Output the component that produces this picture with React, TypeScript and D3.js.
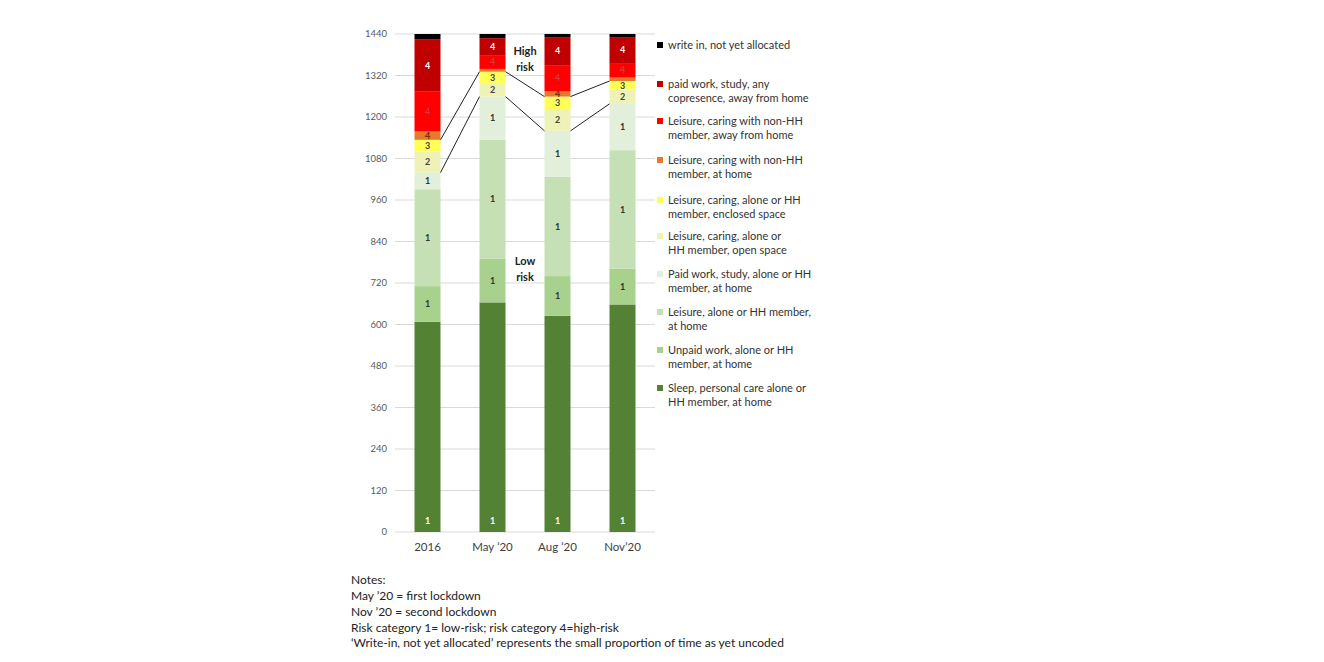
import React from "react";
import * as d3 from "d3";

const categories = ["2016", "May ’20", "Aug ’20", "Nov’20"];

const seriesKeys = [
  "sleep",
  "unpaid",
  "leisureHome",
  "paidHome",
  "openSpace",
  "enclosed",
  "nonHHHome",
  "nonHHAway",
  "paidAway",
  "writeIn",
];

const sleep = [608, 664, 625, 658];
const unpaid = [103, 127, 115, 103];
const leisureHome = [280, 343, 287, 343];
const paidHome = [48, 125, 133, 134];
const openSpace = [61, 39, 63, 41];
const enclosed = [34, 33, 36, 25];
const nonHHHome = [24, 8, 15, 10];
const nonHHAway = [115, 40, 76, 42];
const paidAway = [152, 49, 81, 75];
const writeIn = [15, 12, 9, 9];

const seriesValues = [sleep, unpaid, leisureHome, paidHome, openSpace, enclosed, nonHHHome, nonHHAway, paidAway, writeIn];

const riskLabels = ["1", "1", "1", "1", "2", "3", "4", "4", "4", ""];

const colors = ["#548235", "#a9d18e", "#c5e0b4", "#e2efda", "#eef2b6", "#ffff57", "#e8782e", "#ff0000", "#c00000", "#000000"];
const labelColors = ["#ffffff", "#333333", "#333333", "#333333", "#444444", "#444444", "#6b3000", "#d83a3a", "#ffffff", "#ffffff"];

const legendLabels = [
  ["write in, not yet allocated"],
  ["paid work, study, any", "copresence, away from home"],
  ["Leisure, caring with non-HH", "member, away from home"],
  ["Leisure, caring with non-HH", "member, at home"],
  ["Leisure, caring, alone or HH", "member, enclosed space"],
  ["Leisure, caring, alone or", "HH member, open space"],
  ["Paid work, study, alone or HH", "member, at home"],
  ["Leisure, alone or HH member,", "at home"],
  ["Unpaid work, alone or HH", "member, at home"],
  ["Sleep, personal care alone or", "HH member, at home"],
];
const legendRowY = [45, 84, 121, 160, 200, 236, 274, 312, 350, 388];

const yTicks = [0, 120, 240, 360, 480, 600, 720, 840, 960, 1080, 1200, 1320, 1440];

const notes = [
  "Notes:",
  "May ’20 = first lockdown",
  "Nov ’20 = second lockdown",
  "Risk category 1= low-risk; risk category 4=high-risk",
  "‘Write-in, not yet allocated’ represents the small proportion of time as yet uncoded",
];

const FONT = "Lato, 'Open Sans', sans-serif";

export default function App() {
  const x = d3.scaleBand<string>().domain(categories).range([395, 655]).paddingInner(0.6).paddingOuter(0.3);
  const y = d3.scaleLinear().domain([0, 1440]).range([532, 34]);

  const rows = categories.map((c, i) => {
    const r: any = { cat: c };
    seriesKeys.forEach((k, j) => (r[k] = seriesValues[j][i]));
    return r;
  });
  const stacked = d3.stack<any>().keys(seriesKeys)(rows);
  const bw = x.bandwidth();

  const connectorLevels = [3, 5];
  const connectors: { x1: number; y1: number; x2: number; y2: number }[] = [];
  connectorLevels.forEach((lvl) => {
    for (let i = 0; i < categories.length - 1; i++) {
      connectors.push({
        x1: (x(categories[i]) as number) + bw,
        y1: y(stacked[lvl][i][1]),
        x2: x(categories[i + 1]) as number,
        y2: y(stacked[lvl][i + 1][1]),
      });
    }
  });

  const legendOrder = [9, 8, 7, 6, 5, 4, 3, 2, 1, 0];

  return (
    <svg width={1308} height={654} style={{ display: "block", background: "#fff" }} fontFamily={FONT}>
      <g transform="translate(-8,-8)">
        {yTicks.map((t) => (
          <g key={t}>
            <line x1={395} x2={655} y1={y(t)} y2={y(t)} stroke="#d9d9d9" strokeWidth={1} />
            <text x={387} y={y(t)} dy="0.35em" textAnchor="end" fontSize={9.5} fill="#595959">
              {t}
            </text>
          </g>
        ))}
        {stacked.map((s, j) =>
          s.map((d, i) => {
            const x0 = x(categories[i]) as number;
            const yTop = y(d[1]);
            const yBot = y(d[0]);
            const h = yBot - yTop;
            const lbl = riskLabels[j];
            const isBase = j === 0;
            return (
              <g key={`${j}-${i}`}>
                <rect x={x0} y={yTop} width={bw} height={h} fill={colors[j]} />
                {lbl && h >= 5 && (
                  <text
                    x={x0 + bw / 2}
                    y={isBase ? yBot - 11 : (yTop + yBot) / 2}
                    dy="0.35em"
                    textAnchor="middle"
                    fontSize={9}
                    fontWeight="bold"
                    fill={labelColors[j]}
                  >
                    {lbl}
                  </text>
                )}
              </g>
            );
          })
        )}
        {connectors.map((c, i) => (
          <line key={i} x1={c.x1} y1={c.y1} x2={c.x2} y2={c.y2} stroke="#222" strokeWidth={1} />
        ))}
        {categories.map((c) => (
          <text key={c} x={(x(c) as number) + bw / 2} y={547} dy="0.35em" textAnchor="middle" fontSize={11.5} fill="#404040">
            {c}
          </text>
        ))}
        <text x={525} y={51} dy="0.35em" textAnchor="middle" fontSize={11} fontWeight="bold" fill="#222">
          High
        </text>
        <text x={525} y={67} dy="0.35em" textAnchor="middle" fontSize={11} fontWeight="bold" fill="#222">
          risk
        </text>
        <text x={525} y={261} dy="0.35em" textAnchor="middle" fontSize={11} fontWeight="bold" fill="#222">
          Low
        </text>
        <text x={525} y={277} dy="0.35em" textAnchor="middle" fontSize={11} fontWeight="bold" fill="#222">
          risk
        </text>
        {legendOrder.map((j, k) => (
          <g key={j}>
            <rect x={657} y={legendRowY[k] - 3} width={6} height={6} fill={colors[j]} />
            {legendLabels[k].map((line, li) => (
              <text key={li} x={668} y={legendRowY[k] + li * 14.5} dy="0.35em" fontSize={11} fill="#333">
                {line}
              </text>
            ))}
          </g>
        ))}
        {notes.map((n, i) => (
          <text key={i} x={351} y={580 + i * 15.8} dy="0.35em" fontSize={12} fill="#222">
            {n}
          </text>
        ))}
      </g>
    </svg>
  );
}
